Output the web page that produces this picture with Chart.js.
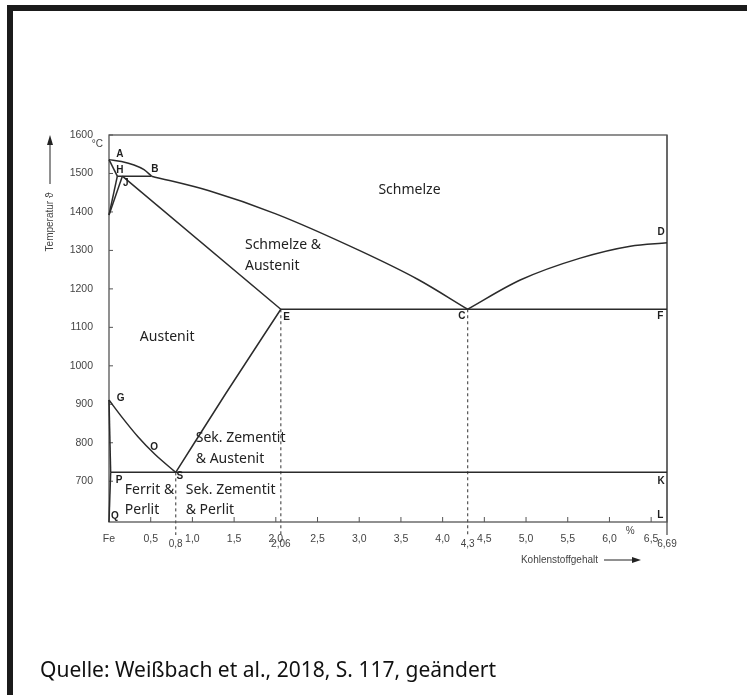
<!DOCTYPE html>
<html>
<head>
<meta charset="utf-8">
<script src="https://cdn.jsdelivr.net/npm/chart.js@4.4.0/dist/chart.umd.min.js"></script>
<style>
  body { margin: 0; background: #fff; }
  #wrap { position: relative; width: 747px; height: 695px; overflow: hidden; }
  #frame { position: absolute; left: 7px; top: 5px; right: -10px; bottom: -10px;
           border-top: 6px solid #1b1b1b; border-left: 6px solid #1b1b1b; }
  #caption { position: absolute; left: 40px; top: 655px; font: 21px "Noto Sans", sans-serif; color: #111; }
  canvas { position: absolute; left: 0; top: 0; }
</style>
</head>
<body>
<div id="wrap">
  <div id="frame"></div>
  <canvas id="phase" width="747" height="695"></canvas>
  <div id="caption">Quelle: Weißbach et al., 2018, S. 117, geändert</div>
</div>
<script>
// phase boundaries, [C-Gehalt %, Temperatur °C]
const lineAB = [[0, 1536], [0.15, 1531], [0.3, 1522], [0.42, 1510], [0.51, 1493]];
const lineBC = [[0.51, 1493], [1.2, 1455], [2.0, 1395], [3.0, 1300], [3.7, 1225], [4.3, 1147]];
const lineCD = [[4.3, 1147], [4.93, 1223], [5.65, 1280], [6.25, 1311], [6.69, 1320]];
const lineAH = [[0, 1536], [0.1, 1493]];
const lineHB = [[0.1, 1493], [0.51, 1493]];
const lineHN = [[0.1, 1493], [0, 1392]];
const lineJN = [[0.16, 1493], [0, 1392]];
const lineJE = [[0.16, 1493], [2.06, 1147]];
const lineECF = [[2.06, 1147], [6.69, 1147]];
const lineGOS = [[0, 911], [0.15, 868], [0.35, 815], [0.55, 770], [0.8, 723]];
const lineSE = [[0.8, 723], [1.4, 928], [2.06, 1147]];
const lineGP = [[0, 911], [0.02, 723]];
const linePQ = [[0.02, 723], [0, 594]];
const linePSK = [[0.02, 723], [6.69, 723]];
const dashS = [[0.8, 723], [0.8, 560]];
const dashE = [[2.06, 1147], [2.06, 560]];
const dashC = [[4.3, 1147], [4.3, 560]];
const edgeL = [[6.69, 1600], [6.69, 560]];

const xTicks = [0, 0.5, 1.0, 1.5, 2.0, 2.5, 3.0, 3.5, 4.0, 4.5, 5.0, 5.5, 6.0, 6.5];
const xTickLabels = ['Fe', '0,5', '1,0', '1,5', '2,0', '2,5', '3,0', '3,5', '4,0', '4,5', '5,0', '5,5', '6,0', '6,5'];
const xMarks = [0.8, 2.06, 4.3, 6.69];
const xMarkLabels = ['0,8', '2,06', '4,3', '6,69'];
const yTicks = [700, 800, 900, 1000, 1100, 1200, 1300, 1400, 1500, 1600];

const pointNames = ['A', 'H', 'B', 'J', 'E', 'C', 'D', 'F', 'G', 'O', 'S', 'P', 'Q', 'K', 'L'];
const pointPos = [[0.13, 1551], [0.13, 1509], [0.55, 1512], [0.20, 1475], [2.13, 1127], [4.23, 1129],
  [6.62, 1348], [6.61, 1129], [0.14, 916], [0.54, 788], [0.85, 713], [0.12, 703], [0.07, 609],
  [6.62, 700], [6.61, 611]];

const regionTexts = ['Schmelze', 'Schmelze &', 'Austenit', 'Austenit', 'Sek. Zementit', '& Austenit',
  'Ferrit &', 'Perlit', 'Sek. Zementit', '& Perlit'];
const regionPos = [[3.23, 1457], [1.63, 1314], [1.63, 1259], [0.37, 1075], [1.04, 812], [1.04, 757],
  [0.19, 676], [0.19, 624], [0.92, 676], [0.92, 624]];

function pts(arr) { return arr.map(p => ({ x: p[0], y: p[1] })); }
function solid(arr, curved) {
  return { data: pts(arr), showLine: true, pointRadius: 0, borderColor: '#2b2b2b', borderWidth: 1.5,
           tension: curved ? 0.4 : 0, cubicInterpolationMode: curved ? 'monotone' : 'default', clip: false };
}
function dashed(arr) {
  return { data: pts(arr), showLine: true, pointRadius: 0, borderColor: '#555', borderWidth: 1.2,
           borderDash: [3, 3], clip: false };
}

const decor = {
  id: 'decor',
  beforeDatasetsDraw(chart) {
    const { ctx, chartArea: a, scales: { x, y } } = chart;
    ctx.save();
    ctx.strokeStyle = '#555';
    ctx.lineWidth = 1.3;
    ctx.strokeRect(a.left, a.top, a.right - a.left, a.bottom - a.top);
    ctx.lineWidth = 1;
    ctx.beginPath();
    xTicks.slice(1).forEach(v => { const px = x.getPixelForValue(v); ctx.moveTo(px, a.bottom); ctx.lineTo(px, a.bottom - 5); });
    yTicks.forEach(v => { const py = y.getPixelForValue(v); ctx.moveTo(a.left, py); ctx.lineTo(a.left + 4, py); });
    ctx.stroke();
    ctx.restore();
  },
  afterDatasetsDraw(chart) {
    const { ctx, chartArea: a, scales: { x, y } } = chart;
    ctx.save();
    ctx.fillStyle = '#1e1e1e';
    ctx.font = 'bold 10px "Liberation Sans", Arial, sans-serif';
    ctx.textAlign = 'center';
    ctx.textBaseline = 'middle';
    pointNames.forEach((n, i) => ctx.fillText(n, x.getPixelForValue(pointPos[i][0]), y.getPixelForValue(pointPos[i][1])));

    ctx.font = '14px "Noto Sans", sans-serif';
    ctx.textAlign = 'left';
    ctx.fillStyle = '#222';
    regionTexts.forEach((t, i) => ctx.fillText(t, x.getPixelForValue(regionPos[i][0]), y.getPixelForValue(regionPos[i][1])));

    ctx.fillStyle = '#444';
    ctx.font = '10px "Liberation Sans", Arial, sans-serif';
    ctx.textAlign = 'right';
    ctx.fillText('°C', a.left - 6, y.getPixelForValue(1600) + 9);
    ctx.textAlign = 'center';
    ctx.fillText('%', x.getPixelForValue(6.25), a.bottom + 9);
    xMarks.forEach((v, i) => ctx.fillText(xMarkLabels[i], x.getPixelForValue(v), a.bottom + 22));

    // x axis title with arrow
    ctx.font = '10px "Liberation Sans", Arial, sans-serif';
    ctx.textAlign = 'right';
    ctx.fillText('Kohlenstoffgehalt', 598, 560);
    ctx.strokeStyle = '#222';
    ctx.lineWidth = 1;
    ctx.beginPath(); ctx.moveTo(604, 560); ctx.lineTo(634, 560); ctx.stroke();
    ctx.fillStyle = '#222';
    ctx.beginPath(); ctx.moveTo(641, 560); ctx.lineTo(632, 557); ctx.lineTo(632, 563); ctx.closePath(); ctx.fill();

    // y axis title with arrow
    ctx.save();
    ctx.translate(50, 222);
    ctx.rotate(-Math.PI / 2);
    ctx.fillStyle = '#444';
    ctx.textAlign = 'center';
    ctx.font = '10px "Liberation Sans", Arial, sans-serif';
    ctx.fillText('Temperatur \u03D1', 0, 0);
    ctx.restore();
    ctx.beginPath(); ctx.moveTo(50, 184); ctx.lineTo(50, 143); ctx.stroke();
    ctx.beginPath(); ctx.moveTo(50, 135); ctx.lineTo(47, 145); ctx.lineTo(53, 145); ctx.closePath(); ctx.fill();
    ctx.restore();
  }
};

new Chart(document.getElementById('phase'), {
  type: 'scatter',
  data: {
    datasets: [
      solid(lineAB, true), solid(lineBC, true), solid(lineCD, true),
      solid(lineAH), solid(lineHB), solid(lineHN), solid(lineJN), solid(lineJE), solid(lineECF),
      solid(lineGOS, true), solid(lineSE, true), solid(lineGP), solid(linePQ), solid(linePSK),
      dashed(dashS), dashed(dashE), dashed(dashC),
      { data: pts(edgeL), showLine: true, pointRadius: 0, borderColor: '#555', borderWidth: 1.3, clip: false }
    ]
  },
  options: {
    responsive: false,
    animation: false,
    devicePixelRatio: 1,
    layout: { padding: { left: 0, right: 80, top: 135, bottom: 133 } },
    plugins: { legend: { display: false }, tooltip: { enabled: false } },
    scales: {
      x: {
        type: 'linear', min: 0, max: 6.69,
        grid: { display: false }, border: { display: false },
        afterBuildTicks: s => { s.ticks = xTicks.map(v => ({ value: v })); },
        afterFit: s => { s.height = 40; },
        ticks: {
          autoSkip: false, maxRotation: 0, padding: 3, color: '#444',
          font: { family: '"Liberation Sans", Arial, sans-serif', size: 10.5 },
          callback: v => xTickLabels[xTicks.indexOf(v)]
        }
      },
      y: {
        type: 'linear', min: 594, max: 1600,
        grid: { display: false }, border: { display: false },
        afterBuildTicks: s => { s.ticks = yTicks.map(v => ({ value: v })); },
        afterFit: s => { s.width = 109; },
        ticks: {
          padding: 8, color: '#444',
          font: { family: '"Liberation Sans", Arial, sans-serif', size: 10.5 },
          callback: v => String(v)
        }
      }
    }
  },
  plugins: [decor]
});
</script>
</body>
</html>
